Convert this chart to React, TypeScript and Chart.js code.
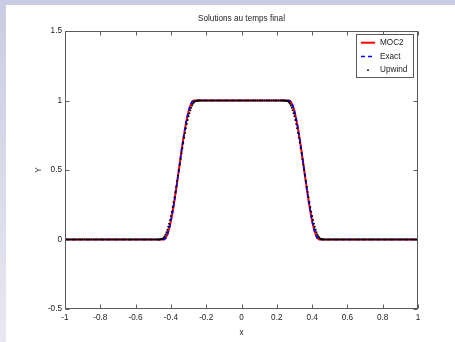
import React, { useEffect, useRef } from "react";
import { Chart, registerables } from "chart.js";

Chart.register(...registerables);

const TITLE = "Solutions au temps final";
const X_LABEL = "x";
const Y_LABEL = "Y";
const SERIES_NAMES = ["MOC2", "Exact", "Upwind"];
const X_TICKS = [-1, -0.8, -0.6, -0.4, -0.2, 0, 0.2, 0.4, 0.6, 0.8, 1];
const Y_TICKS = [-0.5, 0, 0.5, 1, 1.5];

const xLine = [
  -1, -0.44, -0.43, -0.42, -0.41, -0.4, -0.39, -0.38, -0.37, -0.36, -0.35, -0.34, -0.33, -0.32, -0.31, -0.3, -0.29, -0.28, -0.27,
  0.27, 0.28, 0.29, 0.3, 0.31, 0.32, 0.33, 0.34, 0.35, 0.36, 0.37, 0.38, 0.39, 0.4, 0.41, 0.42, 0.43, 0.44, 1,
];
const moc2Y = [
  0, 0, 0.01, 0.037, 0.079, 0.134, 0.202, 0.28, 0.365, 0.455, 0.545, 0.635, 0.72, 0.798, 0.866, 0.922, 0.964, 0.99, 1,
  1, 0.99, 0.964, 0.922, 0.866, 0.798, 0.72, 0.635, 0.545, 0.455, 0.365, 0.28, 0.202, 0.134, 0.079, 0.037, 0.01, 0, 0,
];
const exactY = [
  0, 0, 0.008, 0.034, 0.075, 0.13, 0.199, 0.277, 0.363, 0.454, 0.546, 0.637, 0.723, 0.801, 0.87, 0.925, 0.966, 0.992, 1,
  1, 0.992, 0.966, 0.925, 0.87, 0.801, 0.723, 0.637, 0.546, 0.454, 0.363, 0.277, 0.199, 0.13, 0.075, 0.034, 0.008, 0, 0,
];

const xUpwind = [
  // left plateau
  -1, -0.99, -0.98, -0.97, -0.96, -0.95, -0.94, -0.93, -0.92, -0.91,
  -0.9, -0.89, -0.88, -0.87, -0.86, -0.85, -0.84, -0.83, -0.82, -0.81,
  -0.8, -0.79, -0.78, -0.77, -0.76, -0.75, -0.74, -0.73, -0.72, -0.71,
  -0.7, -0.69, -0.68, -0.67, -0.66, -0.65, -0.64, -0.63, -0.62, -0.61,
  -0.6, -0.59, -0.58, -0.57, -0.56, -0.55, -0.54, -0.53, -0.52, -0.51,
  -0.5, -0.49, -0.48,
  // left front
  -0.47, -0.465, -0.46, -0.455, -0.45, -0.445, -0.44, -0.435, -0.43, -0.425,
  -0.42, -0.415, -0.41, -0.405, -0.4, -0.395, -0.39, -0.385, -0.38, -0.375,
  -0.37, -0.365, -0.36, -0.355, -0.35, -0.345, -0.34, -0.335, -0.33, -0.325,
  -0.32, -0.315, -0.31, -0.305, -0.3, -0.295, -0.29, -0.285, -0.28, -0.275,
  -0.27, -0.265, -0.26, -0.255, -0.25, -0.245, -0.24, -0.235, -0.23,
  // top plateau
  -0.22, -0.21, -0.2, -0.19, -0.18, -0.17, -0.16, -0.15, -0.14, -0.13,
  -0.12, -0.11, -0.1, -0.09, -0.08, -0.07, -0.06, -0.05, -0.04, -0.03,
  -0.02, -0.01, 0, 0.01, 0.02, 0.03, 0.04, 0.05, 0.06, 0.07,
  0.08, 0.09, 0.1, 0.11, 0.12, 0.13, 0.14, 0.15, 0.16, 0.17,
  0.18, 0.19, 0.2, 0.21, 0.22,
  // right front
  0.23, 0.235, 0.24, 0.245, 0.25, 0.255, 0.26, 0.265, 0.27, 0.275,
  0.28, 0.285, 0.29, 0.295, 0.3, 0.305, 0.31, 0.315, 0.32, 0.325,
  0.33, 0.335, 0.34, 0.345, 0.35, 0.355, 0.36, 0.365, 0.37, 0.375,
  0.38, 0.385, 0.39, 0.395, 0.4, 0.405, 0.41, 0.415, 0.42, 0.425,
  0.43, 0.435, 0.44, 0.445, 0.45, 0.455, 0.46, 0.465, 0.47,
  // right plateau
  0.48, 0.49, 0.5, 0.51, 0.52, 0.53, 0.54, 0.55, 0.56, 0.57,
  0.58, 0.59, 0.6, 0.61, 0.62, 0.63, 0.64, 0.65, 0.66, 0.67,
  0.68, 0.69, 0.7, 0.71, 0.72, 0.73, 0.74, 0.75, 0.76, 0.77,
  0.78, 0.79, 0.8, 0.81, 0.82, 0.83, 0.84, 0.85, 0.86, 0.87,
  0.88, 0.89, 0.9, 0.91, 0.92, 0.93, 0.94, 0.95, 0.96, 0.97,
  0.98, 0.99, 1,
];
const upwindY = [
  // left plateau
  0, 0, 0, 0, 0, 0, 0, 0, 0, 0,
  0, 0, 0, 0, 0, 0, 0, 0, 0, 0,
  0, 0, 0, 0, 0, 0, 0, 0, 0, 0,
  0, 0, 0, 0, 0, 0, 0, 0, 0, 0,
  0, 0, 0, 0, 0, 0, 0, 0, 0, 0,
  0, 0, 0,
  // left front
  0, 0, 0.001, 0.002, 0.004, 0.008, 0.014, 0.024, 0.036, 0.052,
  0.07, 0.091, 0.114, 0.14, 0.169, 0.2, 0.233, 0.268, 0.304, 0.342,
  0.38, 0.42, 0.46, 0.5, 0.54, 0.58, 0.62, 0.658, 0.696, 0.732,
  0.767, 0.8, 0.831, 0.86, 0.886, 0.909, 0.93, 0.948, 0.964, 0.976,
  0.986, 0.992, 0.996, 0.998, 0.999, 1, 1, 1, 1,
  // top plateau
  1, 1, 1, 1, 1, 1, 1, 1, 1, 1,
  1, 1, 1, 1, 1, 1, 1, 1, 1, 1,
  1, 1, 1, 1, 1, 1, 1, 1, 1, 1,
  1, 1, 1, 1, 1, 1, 1, 1, 1, 1,
  1, 1, 1, 1, 1,
  // right front
  1, 1, 1, 1, 0.999, 0.998, 0.996, 0.992, 0.986, 0.976,
  0.964, 0.948, 0.93, 0.909, 0.886, 0.86, 0.831, 0.8, 0.767, 0.732,
  0.696, 0.658, 0.62, 0.58, 0.54, 0.5, 0.46, 0.42, 0.38, 0.342,
  0.304, 0.268, 0.233, 0.2, 0.169, 0.14, 0.114, 0.091, 0.07, 0.052,
  0.036, 0.024, 0.014, 0.008, 0.004, 0.002, 0.001, 0, 0,
  // right plateau
  0, 0, 0, 0, 0, 0, 0, 0, 0, 0,
  0, 0, 0, 0, 0, 0, 0, 0, 0, 0,
  0, 0, 0, 0, 0, 0, 0, 0, 0, 0,
  0, 0, 0, 0, 0, 0, 0, 0, 0, 0,
  0, 0, 0, 0, 0, 0, 0, 0, 0, 0,
  0, 0, 0,
];

const FONT_FAMILY = "'Liberation Sans', Arial, Helvetica, sans-serif";
const FONT_SIZE = 8.2;
const TEXT_COLOR = "#1c1c1c";
const AXIS_COLOR = "#5a5a5a";

const matlabPlugin = {
  id: "matlabDecor",
  afterDatasetsDraw(chart: any) {
    const { ctx, chartArea: a, scales } = chart;
    ctx.save();
    ctx.strokeStyle = AXIS_COLOR;
    ctx.lineWidth = 1;
    const L = a.left + 0.5;
    const R = a.right - 0.5;
    const T = a.top + 0.5;
    const B = a.bottom - 0.5;
    ctx.strokeRect(L, T, R - L, B - T);
    const tl = 4;
    ctx.beginPath();
    for (const v of X_TICKS) {
      const px = Math.round(scales.x.getPixelForValue(v)) + 0.5;
      ctx.moveTo(px, B);
      ctx.lineTo(px, B - tl);
      ctx.moveTo(px, T);
      ctx.lineTo(px, T + tl);
    }
    for (const v of Y_TICKS) {
      const py = Math.round(scales.y.getPixelForValue(v)) + 0.5;
      ctx.moveTo(L, py);
      ctx.lineTo(L + tl, py);
      ctx.moveTo(R, py);
      ctx.lineTo(R - tl, py);
    }
    ctx.stroke();
    ctx.restore();
  },
  afterDraw(chart: any) {
    const { ctx, chartArea: a } = chart;
    ctx.save();
    ctx.font = `${FONT_SIZE}px ${FONT_FAMILY}`;
    ctx.fillStyle = TEXT_COLOR;
    ctx.textAlign = "center";
    ctx.textBaseline = "middle";
    ctx.fillText(TITLE, (a.left + a.right) / 2, 19);

    // legend box
    const bx = 356.5, by = 34.5, bw = 57, bh = 43;
    ctx.fillStyle = "#ffffff";
    ctx.fillRect(bx, by, bw, bh);
    ctx.strokeStyle = AXIS_COLOR;
    ctx.lineWidth = 1;
    ctx.strokeRect(bx, by, bw, bh);
    const ds = chart.data.datasets;
    const rows = [42.7, 56.5, 70.2];
    ds.forEach((d: any, i: number) => {
      const y = rows[i];
      if (d.showLine === false) {
        ctx.fillStyle = d.pointBackgroundColor;
        ctx.beginPath();
        ctx.arc(368, y, 0.9, 0, Math.PI * 2);
        ctx.fill();
      } else {
        ctx.strokeStyle = d.borderColor;
        ctx.lineWidth = d.borderWidth;
        ctx.setLineDash(d.borderDash || []);
        ctx.beginPath();
        ctx.moveTo(361, y);
        ctx.lineTo(375, y);
        ctx.stroke();
        ctx.setLineDash([]);
      }
      ctx.fillStyle = TEXT_COLOR;
      ctx.textAlign = "left";
      ctx.textBaseline = "middle";
      ctx.fillText(d.label, 380, y);
    });
    ctx.restore();
  },
};

export default function App() {
  const ref = useRef<HTMLCanvasElement | null>(null);

  useEffect(() => {
    if (!ref.current) return;
    const font = { family: FONT_FAMILY, size: FONT_SIZE };
    const chart = new Chart(ref.current, {
      type: "line",
      data: {
        datasets: [
          {
            label: SERIES_NAMES[0],
            data: xLine.map((x, i) => ({ x, y: moc2Y[i] })),
            borderColor: "#ff0000",
            borderWidth: 2,
            pointRadius: 0,
            order: 3,
          },
          {
            label: SERIES_NAMES[1],
            data: xLine.map((x, i) => ({ x, y: exactY[i] })),
            borderColor: "#0000ff",
            borderWidth: 1.6,
            borderDash: [4, 3],
            pointRadius: 0,
            order: 2,
          },
          {
            label: SERIES_NAMES[2],
            data: xUpwind.map((x, i) => ({ x, y: upwindY[i] })),
            showLine: false,
            borderColor: "#000000",
            borderWidth: 0,
            pointRadius: 1,
            pointBorderWidth: 0,
            pointBackgroundColor: "#000000",
            order: 1,
          },
        ] as any,
      },
      options: {
        responsive: false,
        devicePixelRatio: 1,
        animation: false,
        elements: { line: { tension: 0 } },
        layout: { padding: { left: 0, top: 31, right: 37, bottom: 0 } },
        plugins: {
          legend: { display: false },
          title: { display: false },
          tooltip: { enabled: false },
        },
        scales: {
          x: {
            type: "linear",
            min: -1,
            max: 1,
            grid: { display: false, drawTicks: false },
            border: { display: false },
            ticks: {
              padding: 4,
              font,
              color: TEXT_COLOR,
              maxRotation: 0,
              autoSkip: false,
              callback: (v: any) => String(v),
            },
            title: { display: true, text: X_LABEL, font, color: TEXT_COLOR, padding: { top: 0, bottom: 4 } },
            afterBuildTicks: (s: any) => {
              s.ticks = X_TICKS.map((v) => ({ value: v }));
            },
            afterFit: (s: any) => {
              s.height = 33;
            },
          },
          y: {
            type: "linear",
            min: -0.5,
            max: 1.5,
            grid: { display: false, drawTicks: false },
            border: { display: false },
            ticks: { padding: 3, font, color: TEXT_COLOR, autoSkip: false, callback: (v: any) => String(v) },
            title: { display: true, text: Y_LABEL, font, color: TEXT_COLOR, padding: { top: 34, bottom: 0 } },
            afterBuildTicks: (s: any) => {
              s.ticks = Y_TICKS.map((v) => ({ value: v }));
            },
            afterFit: (s: any) => {
              s.width = 65;
            },
          },
        },
      } as any,
      plugins: [matlabPlugin],
    });
    return () => chart.destroy();
  }, []);

  return (
    <div
      style={{
        position: "fixed",
        left: 0,
        top: 0,
        width: 455,
        height: 342,
        background: "linear-gradient(#c9cce2, #e8e8f1)",
        overflow: "hidden",
      }}
    >
      <div style={{ position: "absolute", left: 6, top: 5, right: 0, bottom: 0, background: "#ffffff" }} />
      <canvas
        ref={ref}
        width={455}
        height={342}
        style={{ position: "absolute", left: 0, top: 0, width: 455, height: 342 }}
      />
    </div>
  );
}
